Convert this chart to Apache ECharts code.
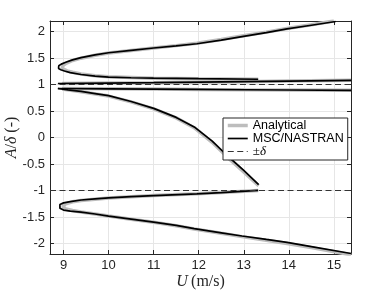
<!DOCTYPE html>
<html>
<head>
<meta charset="utf-8">
<script src="https://cdn.jsdelivr.net/npm/echarts@6/dist/echarts.min.js"></script>
<style>html,body{margin:0;padding:0;background:#fff}#c{width:388px;height:291px}</style>
</head>
<body>
<div id="c"></div>
<script>
// ---- data (U in m/s, A/delta) ----
const xRange = [8.7, 15.38];
const yRange = [-2.2, 2.2];

// MSC/NASTRAN branches
const nastranUpperLoop = [[15.04,2.19],[14.5,2.12],[13.96,2.05],[13.5,1.98],[12.96,1.905],[12.5,1.84],[11.96,1.77],[11.5,1.73],[11,1.69],[10.5,1.645],[10,1.60],[9.7,1.56],[9.39,1.507],[9.2,1.465],[9.05,1.42],[8.95,1.385],[8.895,1.355],[8.875,1.33],[8.89,1.305],[8.94,1.28],[9.02,1.255],[9.15,1.225],[9.39,1.19],[9.7,1.16],[10,1.14],[10.5,1.128],[11,1.12],[12,1.11],[13.32,1.10]];
const nastranNearOneUpper = [[8.875,1.02],[10,1.028],[11,1.035],[12,1.045],[13,1.055],[14,1.066],[15.38,1.08]];
const nastranNearOneLower = [[8.875,0.925],[10,0.92],[11,0.915],[12,0.908],[13,0.902],[14,0.897],[15.38,0.89]];
const nastranDescending = [[8.875,0.925],[9.1,0.9],[9.39,0.87],[9.7,0.83],[10,0.79],[10.5,0.68],[11,0.55],[11.5,0.38],[11.9,0.2],[12.3,-0.07],[12.63,-0.34],[13,-0.62],[13.33,-0.89]];
const nastranLowerLoop = [[13.32,-1.0],[12.5,-1.04],[11.96,-1.064],[11,-1.096],[10.5,-1.115],[10,-1.14],[9.7,-1.16],[9.39,-1.18],[9.15,-1.21],[9.0,-1.235],[8.92,-1.265],[8.885,-1.30],[8.92,-1.335],[9.0,-1.37],[9.15,-1.39],[9.39,-1.41],[9.7,-1.445],[10,-1.484],[10.5,-1.54],[11,-1.597],[11.5,-1.66],[11.9,-1.72],[12.5,-1.80],[12.96,-1.86],[13.5,-1.925],[13.96,-1.98],[14.5,-2.06],[15.38,-2.19]];

// Analytical branches
const analyticalUpperLoop = [[15.0,2.2],[14.5,2.13],[13.96,2.06],[13.5,1.99],[12.96,1.915],[12.5,1.85],[11.96,1.78],[11.5,1.735],[11,1.69],[10.5,1.645],[10,1.595],[9.7,1.553],[9.39,1.498],[9.2,1.455],[9.08,1.41],[9.0,1.37],[8.97,1.33],[9.0,1.29],[9.08,1.258],[9.2,1.232],[9.39,1.2],[9.7,1.166],[10,1.145],[11,1.12],[12,1.11],[13.32,1.10]];
const analyticalNearOneUpper = [[8.97,1.02],[10,1.028],[11,1.035],[12,1.045],[13,1.055],[14,1.066],[15.38,1.08]];
const analyticalNearOneLower = [[8.97,0.925],[10,0.92],[11,0.915],[12,0.908],[13,0.902],[14,0.897],[15.38,0.89]];
const analyticalDescending = [[8.97,0.915],[9.39,0.865],[10,0.782],[10.5,0.672],[11,0.54],[11.5,0.37],[11.9,0.185],[12.3,-0.09],[12.63,-0.365],[13,-0.65],[13.33,-0.91]];
const analyticalLowerLoop = [[13.32,-1.0],[12.5,-1.04],[11.96,-1.064],[11,-1.096],[10,-1.142],[9.7,-1.165],[9.39,-1.19],[9.2,-1.215],[9.05,-1.25],[8.98,-1.30],[9.05,-1.35],[9.2,-1.38],[9.39,-1.405],[9.7,-1.445],[10,-1.484],[10.5,-1.542],[11,-1.60],[11.5,-1.665],[11.9,-1.728],[12.5,-1.81],[12.96,-1.872],[13.5,-1.94],[13.96,-2.0],[14.5,-2.08],[15.38,-2.215]];

const deltaLevels = [1, -1];
const legendNames = ['Analytical', 'MSC/NASTRAN', '±δ'];

// ---- chart ----
const chart = echarts.init(document.getElementById('c'), null, {renderer: 'canvas'});
const axisColor = '#262626';
const gridColor = '#e6e6e6';
const styles = {
  Analytical: {color: '#bdbdbd', width: 3.5, type: 'solid', z: 2},
  'MSC/NASTRAN': {color: '#000000', width: 1.7, type: 'solid', z: 3},
  '±δ': {color: '#333333', width: 1.1, type: [6, 3.5], z: 4}
};

function line(name, data) {
  const s = styles[name];
  return {name, type: 'line', data, symbol: 'none', showSymbol: false, smooth: false, z: s.z,
    lineStyle: {color: s.color, width: s.width, type: s.type}, itemStyle: {color: s.color, opacity: 0},
    emphasis: {disabled: true}, silent: true};
}
const series = [];
[analyticalUpperLoop, analyticalNearOneUpper, analyticalNearOneLower, analyticalDescending, analyticalLowerLoop]
  .forEach(d => series.push(line(legendNames[0], d)));
[nastranUpperLoop, nastranNearOneUpper, nastranNearOneLower, nastranDescending, nastranLowerLoop]
  .forEach(d => series.push(line(legendNames[1], d)));
deltaLevels.forEach(v => series.push(line(legendNames[2], [[xRange[0], v], [xRange[1], v]])));

const serif = 'Liberation Serif';
chart.setOption({
  animation: false,
  backgroundColor: '#ffffff',
  grid: {left: 50, right: 37, top: 21, bottom: 37, containLabel: false, outerBoundsMode: 'none'},
  xAxis: [{
    type: 'value', min: xRange[0], max: xRange[1], minInterval: 1, maxInterval: 1, position: 'bottom',
    axisLine: {show: true, onZero: false, lineStyle: {color: axisColor, width: 1}},
    axisTick: {show: true, inside: true, length: 4, lineStyle: {color: axisColor}},
    axisLabel: {color: axisColor, fontSize: 13, fontFamily: 'Liberation Sans', margin: 5,
      formatter: v => Math.abs(v - Math.round(v)) < 1e-6 ? String(Math.round(v)) : ''},
    splitLine: {show: true, lineStyle: {color: gridColor, width: 1}},
    name: '{i|U} {r|(m/s)}', nameLocation: 'middle', nameGap: 20, nameMoveOverlap: false,
    nameTextStyle: {rich: {i: {fontFamily: serif, fontStyle: 'italic', fontSize: 16, color: '#262626'},
                           r: {fontFamily: serif, fontSize: 16, color: '#262626'}}}
  }, {
    type: 'value', min: xRange[0], max: xRange[1], minInterval: 1, maxInterval: 1, position: 'top',
    axisLine: {show: true, onZero: false, lineStyle: {color: axisColor, width: 1}},
    axisTick: {show: true, inside: true, length: 4, lineStyle: {color: axisColor}},
    axisLabel: {show: false}, splitLine: {show: false}
  }],
  yAxis: [{
    type: 'value', min: yRange[0], max: yRange[1], minInterval: 0.5, maxInterval: 0.5, position: 'left',
    axisLine: {show: true, onZero: false, lineStyle: {color: axisColor, width: 1}},
    axisTick: {show: true, inside: true, length: 4, lineStyle: {color: axisColor}},
    axisLabel: {color: axisColor, fontSize: 13, fontFamily: 'Liberation Sans', margin: 5,
      formatter: v => Math.abs(v * 2 - Math.round(v * 2)) < 1e-6 ? String(Math.round(v * 2) / 2) : ''},
    splitLine: {show: true, lineStyle: {color: gridColor, width: 1}},
    name: '{i|A}{r|/}{i|δ}{r| (-)}', nameLocation: 'middle', nameRotate: 90, nameGap: 30, nameMoveOverlap: false,
    nameTextStyle: {rich: {i: {fontFamily: serif, fontStyle: 'italic', fontSize: 16, color: '#262626'},
                           r: {fontFamily: serif, fontSize: 16, color: '#262626'}}}
  }, {
    type: 'value', min: yRange[0], max: yRange[1], minInterval: 0.5, maxInterval: 0.5, position: 'right',
    axisLine: {show: true, onZero: false, lineStyle: {color: axisColor, width: 1}},
    axisTick: {show: true, inside: true, length: 4, lineStyle: {color: axisColor}},
    axisLabel: {show: false}, splitLine: {show: false}
  }],
  legend: {
    data: legendNames.map(n => ({name: n, lineStyle: {color: styles[n].color, width: styles[n].width, type: styles[n].type}})),
    orient: 'vertical', left: 223, top: 118,
    padding: [1, 4, 2, 3], itemGap: 0, itemWidth: 20, itemHeight: 12,
    backgroundColor: '#ffffff', borderColor: axisColor, borderWidth: 1, borderRadius: 0,
    selectedMode: false, z: 10,
    itemStyle: {opacity: 0},
    textStyle: {fontFamily: 'Liberation Sans', fontSize: 12.5, color: '#000', lineHeight: 12,
      rich: {pm: {fontFamily: serif, fontSize: 13, color: '#000', lineHeight: 12},
             d: {fontFamily: serif, fontStyle: 'italic', fontSize: 13, color: '#000', lineHeight: 12}}},
    formatter: n => n === '±δ' ? '{pm|±}{d|δ}' : n
  },
  series
});
</script>
</body>
</html>
